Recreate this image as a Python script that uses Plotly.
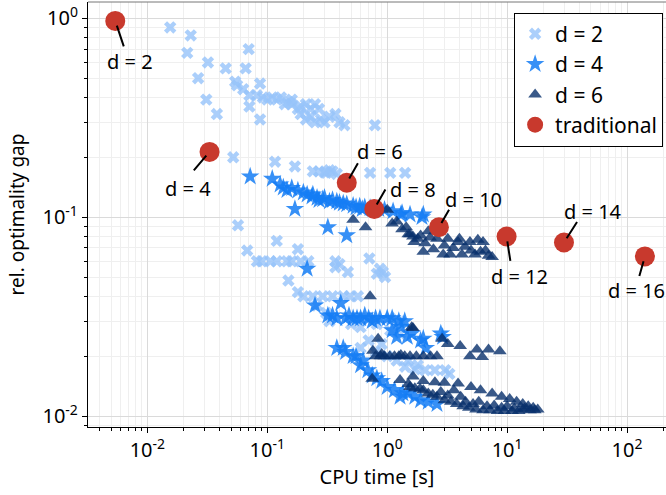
import math
import plotly.graph_objects as go

# ---------------- data ----------------
d2_x = [0.0155, 0.023, 0.0215, 0.032, 0.045, 0.070, 0.066, 0.0265, 0.054, 0.056, 0.087, 0.063, 0.031, 0.038,
        0.071, 0.071, 0.087, 0.082, 0.092, 0.10, 0.11, 0.12, 0.13, 0.15, 0.16, 0.19, 0.21, 0.23, 0.25, 0.27,
        0.19, 0.21, 0.23, 0.25, 0.28, 0.30, 0.33, 0.37, 0.40, 0.44, 0.79, 0.18, 0.16, 0.14,
        0.052, 0.116, 0.17, 0.24, 0.27, 0.31, 0.35, 0.72, 1.06, 1.41, 0.30, 0.33, 0.38,
        0.057, 0.12, 0.18, 0.068,
        0.082, 0.09, 0.106, 0.12, 0.146, 0.16, 0.19, 0.22, 0.37, 0.37, 0.47, 0.71, 0.82, 0.92, 0.96, 0.87, 0.40,
        0.15, 0.18, 0.20, 0.24, 0.29, 0.35, 0.43, 0.49, 0.57, 0.26, 0.31,
        0.33, 0.68, 0.82, 1.06, 1.28, 1.06, 1.28, 0.50, 0.60,
        0.60, 0.80, 1.0, 1.2, 1.41, 1.71, 2.07, 2.5, 3.05, 3.3, 1.5, 1.8, 0.7, 0.9]
d2_y = [0.90, 0.82, 0.67, 0.60, 0.56, 0.70, 0.56, 0.50, 0.48, 0.46, 0.47, 0.44, 0.39, 0.33,
        0.41, 0.36, 0.31, 0.41, 0.40, 0.39, 0.40, 0.39, 0.40, 0.38, 0.37, 0.36, 0.37, 0.35, 0.37, 0.35,
        0.33, 0.31, 0.32, 0.30, 0.31, 0.30, 0.32, 0.33, 0.30, 0.29, 0.29, 0.35, 0.39, 0.37,
        0.20, 0.19, 0.18, 0.17, 0.17, 0.167, 0.17, 0.167, 0.167, 0.167, 0.168, 0.172, 0.165,
        0.091, 0.076, 0.069, 0.068,
        0.060, 0.060, 0.060, 0.060, 0.060, 0.060, 0.060, 0.060, 0.060, 0.056, 0.053, 0.062, 0.052, 0.053, 0.050, 0.055, 0.058,
        0.048, 0.042, 0.040, 0.040, 0.040, 0.040, 0.040, 0.040, 0.040, 0.036, 0.033,
        0.030, 0.031, 0.029, 0.027, 0.026, 0.031, 0.030, 0.029, 0.028,
        0.022, 0.021, 0.020, 0.019, 0.0177, 0.0172, 0.017, 0.017, 0.017, 0.0163, 0.019, 0.018, 0.024, 0.023]

d4_x = [0.072, 0.11, 0.128, 0.136, 0.146, 0.18, 0.215, 0.236, 0.26, 0.27, 0.29, 0.35, 0.38, 0.43, 0.46, 0.52,
        0.59, 0.65, 0.72, 0.85, 0.95, 1.12, 1.33, 1.55, 1.95, 0.17, 0.32, 0.46, 0.40, 0.55, 0.62, 0.30, 0.33,
        0.24, 0.20, 0.16, 1.3, 2.0,
        0.215, 0.25, 0.32, 0.41,
        0.38, 0.45, 0.52, 0.60, 0.70, 0.80, 0.87, 0.35, 0.48, 0.56, 0.65, 0.75, 1.0, 1.1, 1.25, 1.4,
        0.43, 0.52, 0.69, 0.82, 1.0, 1.15, 1.35, 1.28, 0.9, 0.75, 1.5, 1.7, 1.9, 2.2, 2.6, 0.60,
        1.47, 2.0, 2.9, 2.8, 1.9, 1.3, 1.1, 1.6, 1.2, 2.1,
        0.38, 0.45, 0.55, 0.63]
d4_y = [0.16, 0.156, 0.146, 0.141, 0.137, 0.136, 0.130, 0.127, 0.125, 0.122, 0.123, 0.122, 0.120, 0.117, 0.116, 0.114,
        0.113, 0.112, 0.111, 0.110, 0.109, 0.107, 0.105, 0.103, 0.100, 0.110, 0.089, 0.081, 0.118, 0.112, 0.110, 0.125, 0.120,
        0.130, 0.133, 0.140, 0.103, 0.103,
        0.055, 0.036, 0.032, 0.037,
        0.031, 0.031, 0.031, 0.031, 0.031, 0.031, 0.031, 0.032, 0.032, 0.031, 0.032, 0.030, 0.031, 0.031, 0.030, 0.030,
        0.022, 0.020, 0.017, 0.0155, 0.014, 0.0135, 0.013, 0.0125, 0.015, 0.016, 0.013, 0.0125, 0.012, 0.0118, 0.0115, 0.018,
        0.025, 0.0245, 0.025, 0.026, 0.024, 0.028, 0.027, 0.026, 0.025, 0.022,
        0.022, 0.021, 0.020, 0.019]

d6_x = [0.52, 0.66, 1.0, 1.1, 1.33, 1.44, 1.5, 1.55, 1.68, 1.64, 2.07, 2.28, 2.6, 2.0, 2.43, 2.93, 3.35, 3.9,
        4.2, 4.9, 5.4, 5.7, 6.3, 7.0, 7.5, 4.45, 3.55, 1.2, 1.8, 3.0, 3.2, 4.0, 5.0, 6.0, 6.6, 2.2, 1.9,
        0.72, 0.84, 0.76, 1.64, 2.87, 3.2, 4.06, 4.9, 5.6, 6.2, 7.0, 8.7, 1.6,
        0.80, 0.88, 0.95, 1.05, 1.15, 1.25, 1.4, 1.55, 1.75, 2.0, 2.3, 2.6, 0.9, 1.3,
        0.75, 1.64, 1.55, 1.88, 1.28, 1.5, 1.7,
        2.0, 2.5, 3.0, 3.9, 5.0, 6.0, 7.5, 9.0, 10.5, 12, 13.5, 15, 16.5, 18,
        2.2, 2.6, 3.0, 3.4, 3.8, 4.3, 4.8, 5.5, 6.3, 7.2, 8.3, 9.5, 11, 12.5, 2.8, 3.2, 4.5, 5.2,
        6.8, 9.0, 11.5, 13.5, 15.5, 17, 2.0, 2.4, 3.6, 4.1, 5.8, 7.8, 10, 14]
d6_y = [0.097, 0.089, 0.109, 0.093, 0.087, 0.089, 0.082, 0.082, 0.075, 0.080, 0.074, 0.079, 0.078, 0.067, 0.069, 0.065, 0.065, 0.075,
        0.065, 0.075, 0.065, 0.077, 0.075, 0.064, 0.063, 0.071, 0.070, 0.095, 0.078, 0.072, 0.078, 0.078, 0.068, 0.067, 0.068, 0.085, 0.081,
        0.040, 0.0245, 0.0213, 0.0277, 0.0245, 0.023, 0.0225, 0.020, 0.0216, 0.0198, 0.0216, 0.0212, 0.028,
        0.020, 0.020, 0.020, 0.020, 0.020, 0.020, 0.020, 0.020, 0.020, 0.020, 0.020, 0.020, 0.0205, 0.0203,
        0.0154, 0.0158, 0.014, 0.0137, 0.0152, 0.0145, 0.0138,
        0.015, 0.0148, 0.0147, 0.0146, 0.014, 0.0135, 0.013, 0.0125, 0.0122, 0.0118, 0.0115, 0.0112, 0.011, 0.0108,
        0.013, 0.0125, 0.012, 0.0118, 0.0115, 0.0112, 0.011, 0.0108, 0.0107, 0.0107, 0.0106, 0.0106, 0.0106, 0.0106, 0.0132, 0.0127, 0.0118, 0.0115,
        0.0112, 0.011, 0.0109, 0.0108, 0.0107, 0.0107, 0.0135, 0.0128, 0.0135, 0.0125, 0.0118, 0.0113, 0.0112, 0.0109]

trad_x = [0.0054, 0.033, 0.46, 0.78, 2.7, 9.9, 29.8, 141]
trad_y = [0.97, 0.213, 0.149, 0.110, 0.089, 0.080, 0.0746, 0.0635]
trad_labels = ["d = 2", "d = 4", "d = 6", "d = 8", "d = 10", "d = 12", "d = 14", "d = 16"]

x_tick_vals = [0.01, 0.1, 1, 10, 100]
x_tick_text = ["10<sup>-2</sup>", "10<sup>-1</sup>", "10<sup>0</sup>", "10<sup>1</sup>", "10<sup>2</sup>"]
y_tick_vals = [0.01, 0.1, 1]
y_tick_text = ["10<sup>-2</sup>", "10<sup>-1</sup>", "10<sup>0</sup>"]

# label placement in screen pixels relative to each point (x right, y down)
text_shift = [(15, 41), (-22, 37), (33, -31), (39, -19), (35, -28), (13, 40), (29, -31), (-8, 34)]
line_end = [(9, 27), (-17, 20), (12, -21), (12, -21), (11, -19), (4, 26), (14, -22), (-6, 21)]

FONT = "Noto Sans"

fig = go.Figure()
fig.add_trace(go.Scatter(x=d2_x, y=d2_y, mode="markers", name="d = 2",
                         marker=dict(symbol="x", size=11, color="rgb(150,195,250)", opacity=0.8,
                                     line=dict(width=0))))
fig.add_trace(go.Scatter(x=d4_x, y=d4_y, mode="markers", name="d = 4",
                         marker=dict(symbol="star", size=14, color="rgb(20,125,245)", opacity=0.85,
                                     line=dict(width=0))))
fig.add_trace(go.Scatter(x=d6_x, y=d6_y, mode="markers", name="d = 6",
                         marker=dict(symbol="triangle-up", size=12, color="rgb(8,48,107)", opacity=0.8,
                                     line=dict(width=0))))
fig.add_trace(go.Scatter(x=trad_x, y=trad_y, mode="markers", name="traditional",
                         marker=dict(symbol="circle", size=20, color="rgb(200,57,45)",
                                     line=dict(width=0))))

for xv, yv, lab, (sx, sy), (ex, ey) in zip(trad_x, trad_y, trad_labels, text_shift, line_end):
    lx, ly = math.log10(xv), math.log10(yv)   # annotations on log axes use log10 coordinates
    fig.add_annotation(x=lx, y=ly, xref="x", yref="y", text="",
                       showarrow=True, arrowhead=0, arrowwidth=2, arrowcolor="black",
                       ax=ex, ay=ey, standoff=5)
    fig.add_annotation(x=lx, y=ly, xref="x", yref="y", text=lab,
                       showarrow=False, xshift=sx, yshift=-sy,
                       font=dict(family=FONT, size=20, color="black"))

fig.add_shape(type="line", xref="paper", yref="paper", x0=0, x1=1, y0=1, y1=1,
              line=dict(color="#777777", width=1))

axis_common = dict(
    type="log", showline=True, linecolor="black", linewidth=1.2,
    ticks="outside", ticklen=5, tickcolor="black", tickwidth=1,
    showgrid=True, gridcolor="#dadada", gridwidth=1, zeroline=False,
    tickfont=dict(family=FONT, size=20, color="black"),
)

minor_x = [m * 10.0 ** e for e in range(-3, 3) for m in range(2, 10)]
minor_y = [m * 10.0 ** e for e in range(-3, 1) for m in range(2, 10)]

fig.update_xaxes(**axis_common, range=[-2.495, 2.325], tickvals=x_tick_vals, ticktext=x_tick_text,
                 minor=dict(tickvals=minor_x, ticks="outside", ticklen=3, tickcolor="black",
                            showgrid=True, gridcolor="#efefef", gridwidth=1),
                 title=dict(text="CPU time [s]", font=dict(family=FONT, size=20, color="black"), standoff=4))
fig.update_yaxes(**axis_common, range=[-2.055, 0.082], tickvals=y_tick_vals, ticktext=y_tick_text,
                 minor=dict(tickvals=minor_y, ticks="outside", ticklen=3, tickcolor="black",
                            showgrid=True, gridcolor="#efefef", gridwidth=1),
                 title=dict(text="rel. optimality gap", font=dict(family=FONT, size=19, color="black"), standoff=12))

fig.update_layout(
    width=666, height=495,
    margin=dict(l=88, r=0, t=2, b=68, pad=0),
    plot_bgcolor="white", paper_bgcolor="white",
    font=dict(family=FONT, size=18, color="black"),
    legend=dict(x=0.995, y=0.975, xanchor="right", yanchor="top",
                bgcolor="white", bordercolor="black", borderwidth=1,
                font=dict(family=FONT, size=21, color="black"),
                itemsizing="trace", tracegroupgap=0),
    showlegend=True,
)

fig.write_html("out.html", config={"displayModeBar": False},
               post_script="document.body.style.margin='0px';document.body.style.overflow='hidden';")
